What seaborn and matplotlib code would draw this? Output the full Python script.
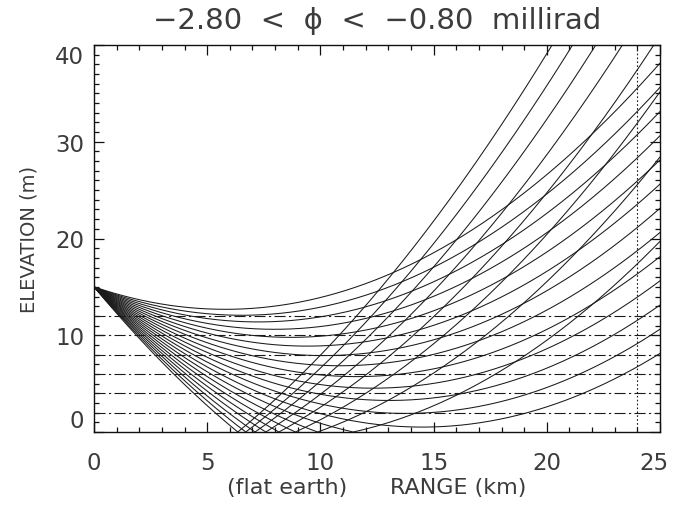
import numpy as np
import pandas as pd
import matplotlib
matplotlib.use("Agg")
import matplotlib.pyplot as plt
import matplotlib.transforms as mtransforms
import seaborn as sns

# ---- data ----
launch_angles_mrad = [-2.8, -2.7, -2.6, -2.5, -2.4, -2.3, -2.2, -2.1, -2.0,
                      -1.9, -1.8, -1.7, -1.6, -1.5, -1.4, -1.3, -1.2, -1.1,
                      -1.0, -0.9, -0.8]
source_height_m = 15.0
curvature_m_per_km2 = 0.069          # flat-earth ray curvature (z'' / 2)
receiver_heights_m = [2, 4, 6, 8, 10, 12]
marker_range_km = 24
x_ticks = [0, 5, 10, 15, 20, 25]
y_ticks = [0, 10, 20, 30, 40]
title_text = "\u22122.80  <  \u03d5  <  \u22120.80  millirad"
xlabel_text = "(flat earth)      RANGE (km)"
ylabel_text = "ELEVATION (m)"

# ---- ray traces (parabolic rays, specular reflection at the ground) ----
rng = np.linspace(0, 25, 1500)
rows = []
c = curvature_m_per_km2
for i, phi in enumerate(launch_angles_mrad):
    z = source_height_m + phi * rng + c * rng ** 2
    disc = phi ** 2 - 4 * c * source_height_m
    if disc > 0:
        x0 = (-phi - np.sqrt(disc)) / (2 * c)
        s = np.sqrt(disc)
        after = rng >= x0
        u = rng[after] - x0
        z[after] = s * u + c * u ** 2
        xs = np.concatenate([rng[~after], [x0], rng[after]])
        zs = np.concatenate([z[~after], [0.0], z[after]])
    else:
        xs, zs = rng, z
    rows.append(pd.DataFrame({"range": xs, "z": zs, "ray": i}))
df = pd.concat(rows, ignore_index=True)

sns.set_style("ticks")
plt.rcParams["font.family"] = ["DejaVu Sans"]

txt_color = "#3c3c3c"
fig = plt.figure(figsize=(6.73, 5.10), dpi=100)
ax = fig.add_axes([94 / 673, 1 - 433 / 510, (660 - 94) / 673, (433 - 46) / 510])

sns.lineplot(data=df, x="range", y="z", units="ray", estimator=None,
             sort=False, color="#1a1a1a", linewidth=0.75, ax=ax, legend=False)

for h in receiver_heights_m:
    ax.axhline(h, color="#1a1a1a", linewidth=0.8, linestyle=(0, (10, 3, 2, 3)))
ax.axvline(marker_range_km, color="#1a1a1a", linewidth=0.8, linestyle=(0, (1.5, 2)))

ax.set_xlim(0, 25)
ax.set_ylim(0, 40)
ax.set_xticks(x_ticks)
ax.set_yticks(y_ticks)
ax.set_xticks(np.arange(0, 26, 1), minor=True)
ax.set_yticks(np.arange(0, 41, 1), minor=True)
ax.tick_params(which="both", direction="in", top=True, right=True,
               color="#111111", width=0.9)
ax.tick_params(which="major", length=7, labelsize=16.5, labelcolor=txt_color)
ax.tick_params(axis="x", which="major", pad=14)
ax.tick_params(axis="y", which="major", pad=7)
ax.tick_params(which="minor", length=3.5)
for sp in ax.spines.values():
    sp.set_linewidth(1.0)
    sp.set_color("#111111")

ylabs = ax.get_yticklabels()
ylabs[0].set_va("bottom")
ylabs[-1].set_va("top")
xlabs = ax.get_xticklabels()
xlabs[-1].set_transform(xlabs[-1].get_transform() +
                        mtransforms.ScaledTranslation(-6 / 100, 0, fig.dpi_scale_trans))

ax.set_xlabel(xlabel_text, fontsize=16, color=txt_color, labelpad=2)
ax.set_ylabel(ylabel_text, fontsize=14, color=txt_color, labelpad=12)
ax.set_title(title_text, fontsize=21, color=txt_color, pad=12)

fig.savefig("out.png", dpi=100)
